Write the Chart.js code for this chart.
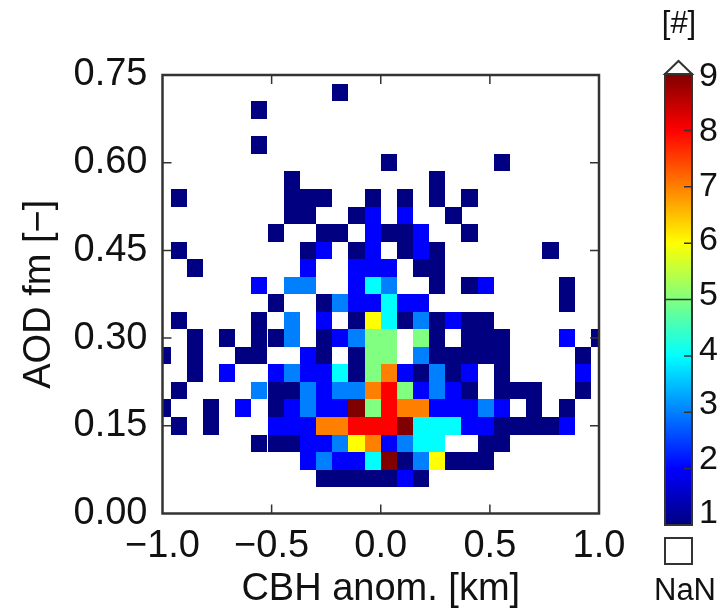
<!DOCTYPE html>
<html>
<head>
<meta charset="utf-8">
<script src="https://cdn.jsdelivr.net/npm/chart.js@4.4.1/dist/chart.umd.min.js"></script>
<style>
  html, body { margin: 0; padding: 0; background: #fff; }
</style>
</head>
<body>
<canvas id="histChart" width="723" height="614"></canvas>
<script>
// bin centres of the 2D histogram
const cbhBins = [-1.000, -0.926, -0.852, -0.778, -0.704, -0.630, -0.556, -0.481, -0.407, -0.333,
  -0.259, -0.185, -0.111, -0.037, 0.037, 0.111, 0.185, 0.259, 0.333, 0.407,
  0.481, 0.556, 0.630, 0.704, 0.778, 0.852, 0.926, 1.000];
const aodBins = [0.75, 0.72, 0.69, 0.66, 0.63, 0.60, 0.57, 0.54, 0.51, 0.48, 0.45, 0.42, 0.39,
  0.36, 0.33, 0.30, 0.27, 0.24, 0.21, 0.18, 0.15, 0.12, 0.09, 0.06, 0.03, 0.00];
const cbhStep = 2 / 27;
const aodStep = 0.03;

// counts per cell, one row per aodBins entry (top row first); 0 = NaN
const counts = [
  [0,0,0,0,0,0,0,0,0,0,0,0,0,0,0,0,0,0,0,0,0,0,0,0,0,0,0,0],
  [0,0,0,0,0,0,0,0,0,0,0,1,0,0,0,0,0,0,0,0,0,0,0,0,0,0,0,0],
  [0,0,0,0,0,0,1,0,0,0,0,0,0,0,0,0,0,0,0,0,0,0,0,0,0,0,0,0],
  [0,0,0,0,0,0,0,0,0,0,0,0,0,0,0,0,0,0,0,0,0,0,0,0,0,0,0,0],
  [0,0,0,0,0,0,1,0,0,0,0,0,0,0,0,0,0,0,0,0,0,0,0,0,0,0,0,0],
  [0,0,0,0,0,0,0,0,0,0,0,0,0,0,1,0,0,0,0,0,0,1,0,0,0,0,0,0],
  [0,0,0,0,0,0,0,0,1,0,0,0,0,0,0,0,0,1,0,0,0,0,0,0,0,0,0,0],
  [0,1,0,0,0,0,0,0,1,1,1,0,0,1,0,1,0,1,0,1,0,0,0,0,0,0,0,0],
  [0,0,0,0,0,0,0,0,1,1,0,0,1,2,0,2,0,0,1,0,0,0,0,0,0,0,0,0],
  [0,0,0,0,0,0,0,1,0,0,1,1,0,2,1,1,2,0,0,1,0,0,0,0,0,0,0,0],
  [0,1,0,0,0,0,0,0,0,1,2,0,1,2,0,1,2,1,0,0,0,0,0,0,1,0,0,0],
  [0,0,1,0,0,0,0,0,0,2,0,0,2,2,2,0,1,1,0,0,0,0,0,0,0,0,0,0],
  [0,0,0,0,0,0,2,0,3,3,0,0,2,4,3,0,0,1,0,1,2,0,0,0,0,1,0,0],
  [0,0,0,0,0,0,0,1,0,0,1,3,2,2,4,2,2,0,0,0,0,0,0,0,0,1,0,0],
  [0,1,0,0,0,0,1,0,3,0,2,0,1,6,4,1,3,1,2,1,1,0,0,0,0,0,0,0],
  [0,0,1,0,1,0,1,1,3,0,1,2,3,5,5,0,5,1,0,1,1,1,0,0,0,2,0,1],
  [1,0,1,0,0,1,1,0,0,2,1,0,1,5,5,0,3,1,1,1,1,1,0,0,0,0,1,0],
  [0,0,1,0,2,0,0,2,3,2,2,4,1,5,7,2,1,3,1,2,0,1,0,0,0,0,2,0],
  [0,1,0,0,0,0,3,1,1,3,2,3,3,7,8,5,2,3,2,1,0,1,1,1,0,0,1,0],
  [1,0,0,1,0,2,0,1,2,3,2,2,9,5,8,7,7,2,2,2,3,2,0,1,0,1,0,0],
  [0,1,0,1,0,0,0,2,2,2,7,7,8,8,8,9,4,4,4,2,2,1,1,1,1,2,0,0],
  [0,0,0,0,0,0,1,1,1,2,2,3,6,7,2,3,4,4,0,0,1,1,0,0,0,0,0,0],
  [0,0,0,0,0,0,0,0,0,2,3,2,2,4,9,1,3,6,1,1,1,0,0,0,0,0,0,0],
  [0,0,0,0,0,0,0,0,0,0,1,1,1,1,1,2,1,0,0,0,0,0,0,0,0,0,0,0],
  [0,0,0,0,0,0,0,0,0,0,0,0,0,0,0,0,0,0,0,0,0,0,0,0,0,0,0,0],
  [0,0,0,0,0,0,0,0,0,0,0,0,0,0,0,0,0,0,0,0,0,0,0,0,0,0,0,0]
];

const cbTicks = [1, 2, 3, 4, 5, 6, 7, 8, 9];
const cbMin = 1;
const cbMax = 9;

const fontFamily = "'Liberation Sans', Arial, Helvetica, sans-serif";
const textColor = "#111";
const frameColor = "#333";

// MATLAB style jet colour map
function jet(v) {
  const t = Math.min(Math.max((v - cbMin) / (cbMax - cbMin), 0), 1);
  const c = (d) => Math.round(Math.min(Math.max(1.5 - Math.abs(4 * t - d), 0), 1) * 255);
  return `rgb(${c(3)},${c(2)},${c(1)})`;
}

// one point per non-empty cell
const points = [];
counts.forEach((row, i) => {
  row.forEach((n, j) => {
    if (n > 0) points.push({ x: cbhBins[j], y: aodBins[i], v: n });
  });
});

// fills every cell as a rectangle around its bin centre
const heatmapPlugin = {
  id: "heatmap",
  beforeDatasetsDraw(chart) {
    const { ctx, chartArea: a, scales: { x, y } } = chart;
    ctx.save();
    ctx.beginPath();
    ctx.rect(a.left, a.top, a.right - a.left, a.bottom - a.top);
    ctx.clip();
    chart.data.datasets[0].data.forEach((p) => {
      const x0 = Math.round(x.getPixelForValue(p.x - cbhStep / 2));
      const x1 = Math.round(x.getPixelForValue(p.x + cbhStep / 2));
      const y0 = Math.round(y.getPixelForValue(p.y + aodStep / 2));
      const y1 = Math.round(y.getPixelForValue(p.y - aodStep / 2));
      ctx.fillStyle = jet(p.v);
      ctx.fillRect(x0, y0, x1 - x0, y1 - y0);
    });
    ctx.restore();
  },
};

// box around the plot with inward ticks on all four sides
const framePlugin = {
  id: "frame",
  afterDatasetsDraw(chart) {
    const { ctx, chartArea: a, scales: { x, y } } = chart;
    const len = 9;
    ctx.save();
    ctx.strokeStyle = frameColor;
    ctx.lineWidth = 1.5;
    ctx.beginPath();
    x.ticks.forEach((t) => {
      const px = x.getPixelForValue(t.value);
      if (px <= a.left + 1 || px >= a.right - 1) return;
      ctx.moveTo(px, a.bottom); ctx.lineTo(px, a.bottom - len);
      ctx.moveTo(px, a.top); ctx.lineTo(px, a.top + len);
    });
    y.ticks.forEach((t) => {
      const py = y.getPixelForValue(t.value);
      if (py <= a.top + 1 || py >= a.bottom - 1) return;
      ctx.moveTo(a.left, py); ctx.lineTo(a.left + len, py);
      ctx.moveTo(a.right, py); ctx.lineTo(a.right - len, py);
    });
    ctx.stroke();
    ctx.lineWidth = 2.5;
    ctx.strokeRect(a.left, a.top, a.right - a.left, a.bottom - a.top);
    ctx.restore();
  },
};

// colour bar with the arrow for values above 9 and the NaN box
const colorbarPlugin = {
  id: "colorbar",
  afterDraw(chart) {
    const ctx = chart.ctx;
    const left = 665, right = 692, top = 74, bottom = 525;
    const cy = (v) => bottom - ((v - cbMin) / (cbMax - cbMin)) * (bottom - top);
    const labelY = (v) => 514 - ((v - cbMin) / (cbMax - cbMin)) * (514 - 77);
    ctx.save();
    const grad = ctx.createLinearGradient(0, bottom, 0, top);
    for (let k = 0; k <= 40; k++) {
      grad.addColorStop(k / 40, jet(cbMin + (k / 40) * (cbMax - cbMin)));
    }
    ctx.fillStyle = grad;
    ctx.fillRect(left, top, right - left, bottom - top);

    ctx.strokeStyle = frameColor;
    ctx.lineWidth = 1.5;
    ctx.beginPath();
    cbTicks.forEach((v) => {
      if (v === cbMin || v === cbMax) return;
      const py = cy(v);
      const start = v === 5 ? left : right - 8;
      ctx.moveTo(start, py);
      ctx.lineTo(right, py);
    });
    ctx.stroke();
    ctx.lineWidth = 2;
    ctx.strokeRect(left, top, right - left, bottom - top);

    // extension triangle
    ctx.beginPath();
    ctx.moveTo(left, top);
    ctx.lineTo((left + right) / 2, top - 13);
    ctx.lineTo(right, top);
    ctx.closePath();
    ctx.fillStyle = "#fff";
    ctx.fill();
    ctx.stroke();

    // NaN box
    ctx.fillStyle = "#fff";
    ctx.fillRect(left, 538, right - left, 26);
    ctx.strokeRect(left, 538, right - left, 26);

    ctx.fillStyle = textColor;
    ctx.font = `34px ${fontFamily}`;
    ctx.textAlign = "left";
    ctx.textBaseline = "middle";
    cbTicks.forEach((v) => ctx.fillText(String(v), 699, labelY(v)));
    ctx.textAlign = "center";
    ctx.font = `31px ${fontFamily}`;
    ctx.fillText("NaN", 685, 591);
    ctx.fillText("[#]", 679, 24);
    ctx.restore();
  },
};

const ctx = document.getElementById("histChart").getContext("2d");
new Chart(ctx, {
  type: "scatter",
  data: {
    datasets: [{ data: points, pointRadius: 0, pointHoverRadius: 0 }],
  },
  options: {
    responsive: false,
    animation: false,
    layout: { padding: { top: 75, right: 124, bottom: 0, left: 0 } },
    plugins: { legend: { display: false }, tooltip: { enabled: false } },
    scales: {
      x: {
        type: "linear",
        min: -1,
        max: 1,
        afterFit: (s) => { s.height = 100.5; },
        ticks: {
          stepSize: 0.5,
          padding: 10,
          color: textColor,
          font: { family: fontFamily, size: 38 },
          maxRotation: 0,
          callback: (v) => v.toFixed(1).replace("-", "\u2212"),
        },
        grid: { display: false, drawTicks: false },
        border: { display: false },
        title: {
          display: true,
          text: "CBH anom. [km]",
          color: textColor,
          font: { family: fontFamily, size: 38 },
          padding: { top: 0, bottom: 2 },
        },
      },
      y: {
        type: "linear",
        min: 0,
        max: 0.75,
        afterFit: (s) => { s.width = 162.5; },
        ticks: {
          stepSize: 0.15,
          padding: 15,
          color: textColor,
          font: { family: fontFamily, size: 38 },
          callback: (v) => v.toFixed(2),
        },
        grid: { display: false, drawTicks: false },
        border: { display: false },
        title: {
          display: true,
          text: "AOD fm [\u2212]",
          color: textColor,
          font: { family: fontFamily, size: 38 },
          padding: { top: 17, bottom: 0 },
        },
      },
    },
  },
  plugins: [heatmapPlugin, framePlugin, colorbarPlugin],
});
</script>
</body>
</html>
